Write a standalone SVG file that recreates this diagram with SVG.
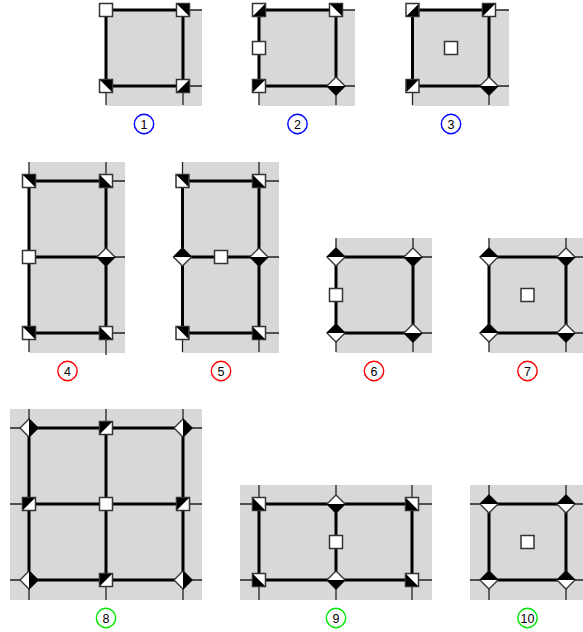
<svg xmlns="http://www.w3.org/2000/svg" width="583" height="632" viewBox="0 0 583 632">
<style>
.bg{fill:#d8d8d8;stroke:none}
.thin{stroke:#222;stroke-width:1.3;fill:none}
.thick{stroke:#000;stroke-width:3;fill:none}
.s{fill:#fff;stroke:#333;stroke-width:1.5}
.d{fill:#fff;stroke:#333;stroke-width:1.4;stroke-linejoin:miter}
.k{fill:#000;stroke:none}
.c{fill:#fff;stroke-width:1.4}
.t{font-family:"Liberation Sans",Arial,sans-serif;font-size:12.500px;text-anchor:middle;fill:#000}
.blue{stroke:#0000ff}.red{stroke:#ff0000}.green{stroke:#00e800}
</style>
<defs>
<g id="sq"><rect class="s" x="-6.500" y="-6.500" width="13" height="13"/></g>
<g id="sTR"><rect class="s" x="-6.500" y="-6.500" width="13" height="13"/><path class="k" d="M-6-6H6V6Z"/></g>
<g id="sBR"><rect class="s" x="-6.500" y="-6.500" width="13" height="13"/><path class="k" d="M6-6V6H-6Z"/></g>
<g id="sBL"><rect class="s" x="-6.500" y="-6.500" width="13" height="13"/><path class="k" d="M-6-6V6H6Z"/></g>
<g id="sTL"><rect class="s" x="-6.500" y="-6.500" width="13" height="13"/><path class="k" d="M-6-6H6L-6 6Z"/></g>
<g id="dT"><path class="d" d="M0-9L9 0 0 9-9 0Z"/><path class="k" d="M-9.500 0L0-9.500 9.500 0Z"/></g>
<g id="dB"><path class="d" d="M0-9L9 0 0 9-9 0Z"/><path class="k" d="M-9.500 0L0 9.500 9.500 0Z"/></g>
<g id="dR"><path class="d" d="M0-9L9 0 0 9-9 0Z"/><path class="k" d="M0-9.500L9.500 0 0 9.500Z"/></g>
</defs>

<g id="backgrounds">
<rect class="bg" x="106" y="10" width="96" height="96"/>
<rect class="bg" x="259" y="10" width="96" height="96"/>
<rect class="bg" x="412" y="10" width="97" height="96"/>
<rect class="bg" x="29" y="162" width="96" height="191"/>
<rect class="bg" x="182" y="162" width="97" height="191"/>
<rect class="bg" x="336" y="238" width="96" height="115"/>
<rect class="bg" x="489" y="238" width="94" height="115"/>
<rect class="bg" x="10" y="409" width="192" height="191"/>
<rect class="bg" x="240" y="485" width="192" height="115"/>
<rect class="bg" x="470" y="485" width="113" height="115"/>
</g>

<g id="connectors">
<path class="thin" d="M183 10H202M183 86H202M106 86V105M183 86V105"/>
<path class="thin" d="M336 10H355M336 86H355M259 86V105M336 86V105"/>
<path class="thin" d="M489 10H509M489 86H509M412.500 86V105M489 86V105"/>
<path class="thin" d="M29 162V352M106 162V355M106 181H125M106 257H125M106 333H125"/>
<path class="thin" d="M182.500 162V352M259 162V352M259 181H279M259 257H279M259 333H279"/>
<path class="thin" d="M336 238V352M413 238V352M413 257H432M413 333H432"/>
<path class="thin" d="M489 238V352M566 238V352M566 257H583M566 333H583"/>
<path class="thin" d="M29 409V600M106 409V600M183 409V600M10 428H202M10 504H202M10 580H202"/>
<path class="thin" d="M259 485V600M336 485V600M412 485V600M240 504H432M240 580H432"/>
<path class="thin" d="M489 485V600M566 485V600M470 504H583M470 580H583"/>
<path class="thick" d="M106 10H183V86H106Z"/>
<path class="thick" d="M259 10H336V86H259Z"/>
<path class="thick" d="M412.500 10H489V86H412.500Z"/>
<path class="thick" d="M29 181H106V333H29ZM29 257H106"/>
<path class="thick" d="M182.500 181H259V333H182.500ZM182.500 257H259"/>
<path class="thick" d="M336 257H413V333H336Z"/>
<path class="thick" d="M489 257H566V333H489Z"/>
<path class="thick" d="M29 428H183V580H29ZM29 504H183M106 428V580"/>
<path class="thick" d="M259 504H412V580H259ZM336 504V580"/>
<path class="thick" d="M489 504H566V580H489Z"/>
</g>

<g id="n1a"><use href="#sq" x="106" y="10"/></g>
<g id="n1b"><use href="#sTR" x="183" y="10"/></g>
<g id="n1c"><use href="#sTR" x="106" y="86"/></g>
<g id="n1d"><use href="#sBR" x="183" y="86"/></g>

<g id="n2a"><use href="#sBR" x="259" y="10"/></g>
<g id="n2b"><use href="#sTR" x="336" y="10"/></g>
<g id="n2c"><use href="#sq" x="259" y="48"/></g>
<g id="n2d"><use href="#sTL" x="259" y="86"/></g>
<g id="n2e"><use href="#dB" x="336" y="86"/></g>

<g id="n3a"><use href="#sBR" x="412.500" y="10"/></g>
<g id="n3b"><use href="#sTL" x="489" y="10"/></g>
<g id="n3c"><use href="#sq" x="451" y="48"/></g>
<g id="n3d"><use href="#sTL" x="412.500" y="86"/></g>
<g id="n3e"><use href="#dB" x="489" y="86"/></g>

<g id="n4a"><use href="#sTR" x="29" y="181"/></g>
<g id="n4b"><use href="#sBL" x="106" y="181"/></g>
<g id="n4c"><use href="#sq" x="29" y="257"/></g>
<g id="n4d"><use href="#dB" x="106" y="257"/></g>
<g id="n4e"><use href="#sTR" x="29" y="333"/></g>
<g id="n4f"><use href="#sBL" x="106" y="333"/></g>

<g id="n5a"><use href="#sTR" x="182.500" y="181"/></g>
<g id="n5b"><use href="#sBL" x="259" y="181"/></g>
<g id="n5c"><use href="#dT" x="182.500" y="257"/></g>
<g id="n5d"><use href="#sq" x="221" y="257"/></g>
<g id="n5e"><use href="#dB" x="259" y="257"/></g>
<g id="n5f"><use href="#sTR" x="182.500" y="333"/></g>
<g id="n5g"><use href="#sBL" x="259" y="333"/></g>

<g id="n6a"><use href="#dT" x="336" y="257"/></g>
<g id="n6b"><use href="#dB" x="413" y="257"/></g>
<g id="n6c"><use href="#sq" x="336" y="295"/></g>
<g id="n6d"><use href="#dT" x="336" y="333"/></g>
<g id="n6e"><use href="#dB" x="413" y="333"/></g>

<g id="n7a"><use href="#dT" x="489" y="257"/></g>
<g id="n7b"><use href="#dB" x="566" y="257"/></g>
<g id="n7c"><use href="#sq" x="527.500" y="295"/></g>
<g id="n7d"><use href="#dT" x="489" y="333"/></g>
<g id="n7e"><use href="#dB" x="566" y="333"/></g>

<g id="n8a"><use href="#dR" x="29" y="428"/></g>
<g id="n8b"><use href="#sTL" x="106" y="428"/></g>
<g id="n8c"><use href="#dR" x="183" y="428"/></g>
<g id="n8d"><use href="#sTL" x="29" y="504"/></g>
<g id="n8e"><use href="#sq" x="106" y="504"/></g>
<g id="n8f"><use href="#sTL" x="183" y="504"/></g>
<g id="n8g"><use href="#dR" x="29" y="580"/></g>
<g id="n8h"><use href="#sTL" x="106" y="580"/></g>
<g id="n8i"><use href="#dR" x="183" y="580"/></g>

<g id="n9a"><use href="#sBL" x="259" y="504"/></g>
<g id="n9b"><use href="#dB" x="336" y="504"/></g>
<g id="n9c"><use href="#sBL" x="412" y="504"/></g>
<g id="n9d"><use href="#sq" x="336" y="542"/></g>
<g id="n9e"><use href="#sBL" x="259" y="580"/></g>
<g id="n9f"><use href="#dB" x="336" y="580"/></g>
<g id="n9g"><use href="#sBL" x="412" y="580"/></g>

<g id="n10a"><use href="#dT" x="489" y="504"/></g>
<g id="n10b"><use href="#dT" x="566" y="504"/></g>
<g id="n10c"><use href="#sq" x="527.500" y="542"/></g>
<g id="n10d"><use href="#dT" x="489" y="580"/></g>
<g id="n10e"><use href="#dT" x="566" y="580"/></g>

<g id="label1"><circle class="c blue" cx="144" cy="124" r="9.700"/><text class="t" x="144" y="129">1</text></g>
<g id="label2"><circle class="c blue" cx="297.500" cy="124" r="9.700"/><text class="t" x="297.500" y="129">2</text></g>
<g id="label3"><circle class="c blue" cx="451" cy="124" r="9.700"/><text class="t" x="451" y="129">3</text></g>
<g id="label4"><circle class="c red" cx="67.500" cy="371" r="9.700"/><text class="t" x="67.500" y="376">4</text></g>
<g id="label5"><circle class="c red" cx="221" cy="371" r="9.700"/><text class="t" x="221" y="376">5</text></g>
<g id="label6"><circle class="c red" cx="374" cy="371" r="9.700"/><text class="t" x="374" y="376">6</text></g>
<g id="label7"><circle class="c red" cx="527.500" cy="371" r="9.700"/><text class="t" x="527.500" y="376">7</text></g>
<g id="label8"><circle class="c green" cx="106" cy="618" r="9.700"/><text class="t" x="106" y="623">8</text></g>
<g id="label9"><circle class="c green" cx="336" cy="618" r="9.700"/><text class="t" x="336" y="623">9</text></g>
<g id="label10"><circle class="c green" cx="527.500" cy="618" r="9.700"/><text class="t" x="527.500" y="623">10</text></g>
</svg>
